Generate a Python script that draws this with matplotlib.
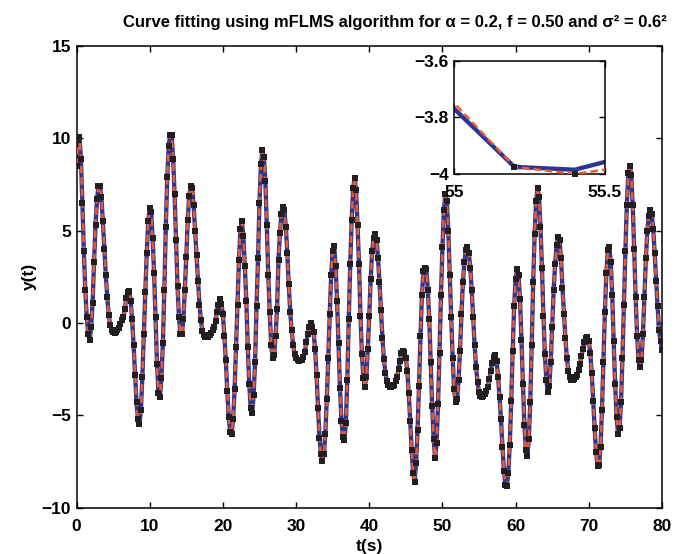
import numpy as np
import matplotlib
matplotlib.use('Agg')
import matplotlib.pyplot as plt
from matplotlib.ticker import FuncFormatter

plt.rcParams['font.family'] = ['Liberation Sans', 'DejaVu Sans']
plt.rcParams['font.weight'] = 'bold'

y_00_10 = [8.5, 9.9, 10.05, 8.9, 6.5, 3.9, 1.8, 0.3, -0.6, -0.9,
           -0.2, 1.1, 3.3, 5.3, 6.7, 7.4, 7.4, 6.8, 5.5, 4.0,
           2.6, 1.4, 0.45, -0.1, -0.4, -0.5, -0.55, -0.5, -0.4, -0.25,
           -0.05, 0.15, 0.35, 0.75, 1.35, 1.7, 1.75, 1.2, 0.2, -1.2,
           -2.8, -4.3, -5.2, -5.45, -4.7, -2.9, -0.6, 1.7, 3.8, 5.5]
y_10_20 = [6.25, 6.0, 4.6, 2.7, 0.3, -2.2, -3.8, -4.0, -3.0, -1.1,
           1.8, 5.2, 7.9, 9.6, 10.2, 10.2, 8.9, 7.0, 4.5, 2.0,
           0.3, -0.6, -0.6, 0.2, 1.8, 3.6, 5.6, 6.9, 7.4, 7.3,
           6.4, 5.0, 3.7, 2.3, 1.0, 0.15, -0.45, -0.65, -0.74, -0.75,
           -0.74, -0.65, -0.55, -0.4, -0.23, 0.1, 0.6, 1.0, 1.28, 1.05]
y_20_30 = [0.5, -0.7, -2.0, -3.7, -5.1, -5.9, -6.0, -5.2, -3.6, -1.3,
           1.0, 3.4, 5.1, 5.5, 4.7, 3.1, 1.2, -1.3, -3.3, -4.6,
           -4.9, -3.9, -2.1, 0.9, 3.5, 6.5, 8.6, 9.35, 9.0, 7.7,
           5.3, 2.6, 0.6, -1.2, -1.9, -1.75, -0.7, 0.75, 3.4, 4.9,
           5.9, 6.3, 6.1, 5.2, 3.8, 2.1, 0.6, -0.4, -1.2, -1.7]
y_30_40 = [-1.9, -2.0, -2.04, -2.03, -1.98, -1.85, -1.55, -1.05, -0.6, -0.2,
           0.0, -0.2, -0.5, -1.4, -2.8, -4.6, -6.2, -7.1, -7.45, -7.1,
           -6.0, -4.1, -1.9, 0.5, 2.6, 3.9, 4.15, 3.1, 1.2, -1.1,
           -3.5, -5.3, -6.15, -6.35, -5.4, -3.1, 0.2, 3.2, 5.6, 7.3,
           7.85, 7.2, 5.3, 3.2, 0.4, -1.7, -3.0, -3.45, -2.9, -1.4]
y_40_50 = [0.4, 2.4, 3.9, 4.6, 4.82, 4.5, 3.5, 2.2, 0.7, -0.8,
           -1.95, -2.7, -3.15, -3.35, -3.47, -3.47, -3.42, -3.35, -3.15, -2.9,
           -2.5, -2.05, -1.65, -1.5, -1.55, -1.9, -2.6, -3.8, -5.3, -6.9,
           -8.1, -8.6, -7.6, -5.8, -3.4, -0.7, 1.5, 2.8, 3.0, 2.9,
           1.8, 0.2, -2.1, -4.5, -6.3, -7.3, -6.5, -4.4, -1.6, 1.5]
y_50_60 = [4.1, 6.1, 7.0, 6.6, 5.0, 2.6, 0.3, -1.9, -3.6, -4.3,
           -4.1, -3.1, -1.5, 0.5, 2.2, 3.3, 3.95, 4.13, 3.8, 3.0,
           1.8, 0.3, -1.2, -2.4, -3.2, -3.75, -3.975, -4.0, -3.97, -3.85,
           -3.7, -3.45, -3.05, -2.6, -2.15, -1.85, -1.75, -2.05, -2.9, -4.0,
           -5.2, -6.7, -8.0, -8.75, -8.8, -8.1, -6.6, -4.2, -1.5, 0.9]
y_60_70 = [2.4, 2.9, 2.6, 1.3, -0.9, -3.3, -5.5, -6.9, -7.2, -6.3,
           -4.3, -1.2, 2.2, 4.8, 6.6, 7.3, 6.8, 5.2, 3.0, 0.4,
           -1.7, -3.1, -3.75, -3.4, -2.1, -0.2, 1.8, 3.2, 4.2, 4.65,
           4.5, 3.5, 1.9, 0.5, -0.8, -1.9, -2.6, -2.95, -3.08, -3.1,
           -3.05, -2.95, -2.8, -2.55, -2.2, -1.8, -1.4, -1.05, -0.8, -0.75]
y_70_80 = [-1.0, -1.6, -2.7, -4.2, -5.7, -7.0, -7.75, -7.7, -6.7, -4.7,
           -2.1, 0.6, 2.7, 3.95, 4.1, 3.3, 1.5, -1.0, -3.3, -5.1,
           -6.0, -5.7, -4.3, -1.9, 1.0, 3.9, 6.4, 8.1, 8.5, 8.0,
           6.4, 4.0, 1.4, -0.7, -2.0, -2.4, -2.0, -0.6, 1.4, 3.5,
           5.0, 5.8, 6.1, 5.9, 5.1, 3.8, 2.3, 0.9, -0.4, -1.0,
           -1.45]

# estimated curve (red dashed + markers)
y_est = np.array(y_00_10 + y_10_20 + y_20_30 + y_30_40 +
                 y_40_50 + y_50_60 + y_60_70 + y_70_80)
t = np.linspace(0, 80, len(y_est))

# samples where the true curve separates from the estimate (seen in the zoom box)
diff_t = [55.0, 55.4, 55.6]
diff_true = [-3.77, -3.985, -3.93]

y_true = y_est.copy()
for tt, yy in zip(diff_t, diff_true):
    y_true[np.argmin(abs(t - tt))] = yy

blue = '#2b3595'
red = '#f05a28'
black = '#231f20'


def draw_curves(ax, markers_clip=True, mask=None):
    ax.plot(t, y_true, '-', color=blue, lw=3.1, solid_capstyle='butt', zorder=2)
    ax.plot(t, y_est, '--', color=red, lw=1.8, dashes=(3, 1.6), zorder=3)
    if mask is None:
        mask = np.ones(len(t), dtype=bool)
    ax.plot(t[mask], y_est[mask], 's', color=black, ms=4.8, mew=0,
            clip_on=markers_clip, zorder=4)


def style(ax, size):
    ax.tick_params(direction='in', length=4, width=1, top=True, right=True,
                   labelsize=size, pad=4)
    for s in ax.spines.values():
        s.set_linewidth(1.1)


minus = FuncFormatter(lambda v, p: ('%g' % v).replace('-', '\u2212'))

fig = plt.figure(figsize=(6.85, 5.54), dpi=100)
ax = fig.add_axes([0.1117, 0.0836, 0.8547, 0.8334])
draw_curves(ax)
ax.set_xlim(0, 80)
ax.set_ylim(-10, 15)
ax.set_xticks(np.arange(0, 81, 10))
ax.set_yticks(np.arange(-10, 16, 5))
ax.yaxis.set_major_formatter(minus)
style(ax, 12.5)
ax.tick_params(axis='x', pad=8)
ax.set_xlabel('t(s)', fontsize=12.5, fontweight='bold', labelpad=4)
ax.set_ylabel('y(t)', fontsize=12.5, fontweight='bold', labelpad=3)
ax.set_title('Curve fitting using mFLMS algorithm for \u03b1 = 0.2, f = 0.50 and \u03c3\u00b2 = 0.6\u00b2',
             fontsize=12, fontweight='bold', x=0.544, pad=14)

# zoom box
axin = fig.add_axes([0.663, 0.686, 0.22, 0.2045])
sel = (t > 55.0) & (t <= 55.5)
draw_curves(axin, markers_clip=False, mask=sel)
axin.set_xlim(55, 55.5)
axin.set_ylim(-4, -3.6)
axin.set_xticks([55, 55.5])
axin.set_yticks([-4, -3.8, -3.6])
axin.xaxis.set_major_formatter(minus)
axin.yaxis.set_major_formatter(minus)
style(axin, 12.5)
axin.tick_params(axis='x', pad=8)

fig.savefig('out.png', dpi=100)
